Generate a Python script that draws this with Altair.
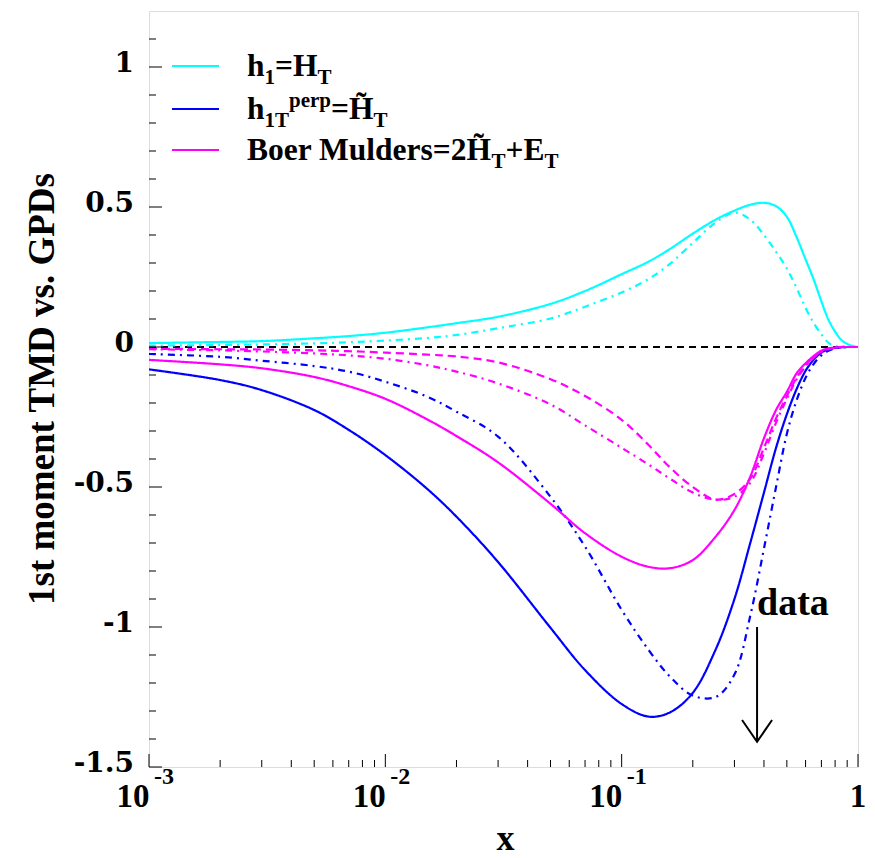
import altair as alt
import pandas as pd

# ---------------- data ----------------
X = [0.001, 0.002, 0.003, 0.005, 0.007, 0.01, 0.015, 0.02, 0.03, 0.05, 0.07, 0.1,
     0.13, 0.16, 0.2, 0.25, 0.3, 0.35, 0.4, 0.45, 0.5, 0.55, 0.6, 0.65, 0.7, 0.75,
     0.8, 0.85, 0.9, 0.95, 1.0]

H1_TMD = [0.014, 0.018, 0.021, 0.031, 0.039, 0.051, 0.070, 0.085, 0.108, 0.154,
          0.200, 0.260, 0.305, 0.350, 0.405, 0.455, 0.487, 0.508, 0.515, 0.503,
          0.465, 0.392, 0.313, 0.240, 0.163, 0.097, 0.055, 0.025, 0.011, 0.004, 0.0]
H1_GPD = [0.005, 0.007, 0.009, 0.013, 0.017, 0.023, 0.032, 0.043, 0.067, 0.102,
          0.144, 0.195, 0.243, 0.297, 0.372, 0.445, 0.480, 0.455, 0.400, 0.340,
          0.280, 0.210, 0.140, 0.085, 0.045, 0.015, 0.004, 0.0, 0.0, 0.0, 0.0]
PERP_TMD = [-0.080, -0.118, -0.154, -0.225, -0.296, -0.386, -0.506, -0.606, -0.768, -1.003,
            -1.154, -1.275, -1.320, -1.305, -1.235, -1.080, -0.900, -0.700, -0.520, -0.360,
            -0.240, -0.150, -0.085, -0.045, -0.020, -0.008, -0.003, -0.001, 0.0, 0.0, 0.0]
PERP_GPD = [-0.025, -0.035, -0.049, -0.068, -0.088, -0.124, -0.177, -0.231, -0.320, -0.535,
            -0.713, -0.939, -1.082, -1.177, -1.245, -1.250, -1.170, -0.960, -0.720, -0.500,
            -0.310, -0.190, -0.110, -0.060, -0.030, -0.013, -0.005, -0.001, 0.0, 0.0, 0.0]
BM_TMD = [-0.046, -0.062, -0.076, -0.107, -0.140, -0.185, -0.258, -0.318, -0.412, -0.560,
          -0.665, -0.749, -0.785, -0.790, -0.761, -0.677, -0.582, -0.463, -0.326, -0.225,
          -0.160, -0.094, -0.058, -0.032, -0.013, -0.005, -0.002, 0.0, 0.0, 0.0, 0.0]
BM_GPD_A = [-0.006, -0.008, -0.009, -0.012, -0.015, -0.020, -0.027, -0.034, -0.055, -0.115,
            -0.175, -0.260, -0.350, -0.430, -0.500, -0.545, -0.525, -0.470, -0.360, -0.255,
            -0.175, -0.110, -0.065, -0.035, -0.016, -0.007, -0.002, 0.0, 0.0, 0.0, 0.0]
BM_GPD_B = [-0.008, -0.012, -0.016, -0.023, -0.030, -0.042, -0.065, -0.088, -0.130, -0.205,
            -0.280, -0.360, -0.420, -0.470, -0.520, -0.546, -0.535, -0.485, -0.380, -0.270,
            -0.185, -0.115, -0.070, -0.038, -0.018, -0.008, -0.003, 0.0, 0.0, 0.0, 0.0]

SERIES = ["h1 TMD", "h1 GPD", "perp TMD", "perp GPD", "BM TMD", "BM GPD a", "BM GPD b"]
SERIES_VALUES = [H1_TMD, H1_GPD, PERP_TMD, PERP_GPD, BM_TMD, BM_GPD_A, BM_GPD_B]
COLORS = ["#00ffff", "#00ffff", "#0000ff", "#0000ff", "#ff00ff", "#ff00ff", "#ff00ff"]
DASHES = [[1, 0], [7, 5, 2, 5], [1, 0], [7, 5, 2, 5], [1, 0], [8, 5], [7, 5, 2, 5]]

Y_MAJOR = [-1.5, -1.0, -0.5, 0.0, 0.5, 1.0]
Y_MAJOR_LABELS = ["-1.5", "-1", "-0.5", "0", "0.5", "1"]
Y_MINOR = [-1.4, -1.3, -1.2, -1.1, -0.9, -0.8, -0.7, -0.6, -0.4, -0.3, -0.2, -0.1,
           0.1, 0.2, 0.3, 0.4, 0.6, 0.7, 0.8, 0.9, 1.1]
X_MAJOR = [0.001, 0.01, 0.1, 1.0]
X_MINOR = [m * d for d in (0.001, 0.01, 0.1) for m in range(2, 10)]
X_LABEL_POS = [0.001, 0.01, 0.1]
X_LABEL_EXP = ["-3", "-2", "-1"]

X_TITLE = "x"
Y_TITLE = "1st moment TMD vs. GPDs"

LEGEND_COLORS = ["#00ffff", "#0000ff", "#ff00ff"]
LEGEND_ROWS = [
    [("h", "n"), ("1", "sub"), ("=H", "n"), ("T", "sub")],
    [("h", "n"), ("1T", "sub"), ("perp", "sup"), ("=H\u0303", "n"), ("T", "sub")],
    [("Boer Mulders=2H\u0303", "n"), ("T", "sub"), ("+E", "n"), ("T", "sub")],
]

ARROW_X = 0.374
ARROW_TOP = -1.0
ARROW_TIP = -1.41

# ---------------- layout ----------------
W, H = 709, 756
SERIF = "Liberation Serif"

rows = []
for name, vals in zip(SERIES, SERIES_VALUES):
    for xv, yv in zip(X, vals):
        rows.append({"series": name, "x": xv, "y": yv})
curves_df = pd.DataFrame(rows)

xscale = alt.Scale(type="log", domain=[0.001, 1.0], nice=False)
yscale = alt.Scale(domain=[-1.5, 1.2], nice=False, zero=False)
XE = alt.X("x:Q", scale=xscale, axis=None)
YE = alt.Y("y:Q", scale=yscale, axis=None)

zero = alt.Chart(pd.DataFrame({"x": [0.001, 1.0], "y": [0.0, 0.0]})).mark_line(
    color="black", strokeDash=[7, 5], strokeWidth=2, clip=True
).encode(x=XE, y=YE)

curves = alt.Chart(curves_df).mark_line(strokeWidth=2.2, interpolate="catmull-rom", clip=True).encode(
    x=XE, y=YE,
    color=alt.Color("series:N", scale=alt.Scale(domain=SERIES, range=COLORS), legend=None),
    strokeDash=alt.StrokeDash("series:N", scale=alt.Scale(domain=SERIES, range=DASHES), legend=None),
    detail="series:N",
)

# ticks drawn inside the frame
y_major_ticks = alt.Chart(pd.DataFrame({"y": Y_MAJOR})).mark_rule(color="black", strokeWidth=1).encode(
    y=YE, x=alt.value(0), x2=alt.value(13))
y_minor_ticks = alt.Chart(pd.DataFrame({"y": Y_MINOR})).mark_rule(color="black", strokeWidth=1).encode(
    y=YE, x=alt.value(0), x2=alt.value(7))
x_major_ticks = alt.Chart(pd.DataFrame({"x": X_MAJOR})).mark_rule(color="black", strokeWidth=1).encode(
    x=XE, y=alt.value(H), y2=alt.value(H - 13))
x_minor_ticks = alt.Chart(pd.DataFrame({"x": X_MINOR})).mark_rule(color="black", strokeWidth=1).encode(
    x=XE, y=alt.value(H), y2=alt.value(H - 7))

# y tick labels
y_labels = alt.Chart(pd.DataFrame({"y": Y_MAJOR, "t": Y_MAJOR_LABELS})).mark_text(
    font="DejaVu Serif", fontWeight="bold", fontSize=28, align="right",
    baseline="middle", dy=-3, color="black"
).encode(y=YE, x=alt.value(-15), text="t:N")

# x tick labels 10^n
xlab_df = pd.DataFrame({"x": X_LABEL_POS, "e": X_LABEL_EXP})
x_base = alt.Chart(xlab_df).mark_text(
    text="10", font=SERIF, fontWeight="bold", fontSize=33, align="center",
    baseline="alphabetic", dx=-16, color="black"
).encode(x=XE, y=alt.value(H + 40))
x_exp = alt.Chart(xlab_df).mark_text(
    font=SERIF, fontWeight="bold", fontSize=24, align="left",
    baseline="alphabetic", dx=5, color="black"
).encode(x=XE, y=alt.value(H + 17), text="e:N")
x_one = alt.Chart(pd.DataFrame({"x": [1.0], "t": ["1"]})).mark_text(
    font=SERIF, fontWeight="bold", fontSize=33, align="center",
    baseline="alphabetic", color="black"
).encode(x=XE, y=alt.value(H + 40), text="t:N")

# axis titles
x_title = alt.Chart(pd.DataFrame({"t": [X_TITLE]})).mark_text(
    font=SERIF, fontWeight="bold", fontSize=36, align="center", baseline="alphabetic",
    color="black"
).encode(x=alt.value(W / 2 + 2), y=alt.value(H + 83), text="t:N")
y_title = alt.Chart(pd.DataFrame({"t": [Y_TITLE]})).mark_text(
    font=SERIF, fontWeight="bold", fontSize=37, align="center", baseline="alphabetic",
    angle=270, color="black"
).encode(x=alt.value(-95), y=alt.value(H / 2), text="t:N")

# "data" arrow
arrow_df = pd.DataFrame({"x": [ARROW_X], "y": [ARROW_TOP], "y2": [ARROW_TIP]})
arrow_line = alt.Chart(arrow_df).mark_rule(color="black", strokeWidth=2).encode(
    x=XE, y=YE, y2="y2:Q")
arrow_head = alt.Chart(arrow_df).mark_point(
    shape="M-1,-1.45L0,0L1,-1.45", filled=False, color="black", strokeWidth=2,
    size=900, opacity=1
).encode(x=XE, y=alt.Y("y2:Q", scale=yscale, axis=None))
data_text = alt.Chart(pd.DataFrame({"x": [ARROW_X], "y": [ARROW_TOP], "t": ["data"]})).mark_text(
    font=SERIF, fontWeight="bold", fontSize=38, align="left", baseline="alphabetic",
    dy=-12, color="black"
).encode(x=XE, y=YE, text="t:N")

# ---------------- hand-made legend ----------------
WIDTHS = {"h": 556, "1": 500, "=": 570, "H": 778, "T": 667, "p": 556, "e": 444, "r": 444,
          "B": 667, "o": 500, " ": 250, "M": 944, "u": 556, "l": 278, "d": 556, "s": 389,
          "2": 500, "+": 570, "E": 667, "\u0303": 0}


def text_width(s, fs):
    return sum(WIDTHS.get(ch, 500) for ch in s) / 1000.0 * fs


LEG_FS, SUB_FS = 31.5, 21
LEG_X0, LEG_TEXT_X = 23, 98
LEG_LINE_Y = [55, 98, 139]
leg_pieces = []
for r, pieces in enumerate(LEGEND_ROWS):
    base = LEG_LINE_Y[r] + 10
    xpos = LEG_TEXT_X
    for txt, kind in pieces:
        fs = LEG_FS if kind == "n" else SUB_FS
        dy = 0 if kind == "n" else (8 if kind == "sub" else -12)
        leg_pieces.append({"px": xpos, "py": base + dy, "t": txt, "fs": fs})
        xpos += text_width(txt, fs)
leg_text = alt.Chart(pd.DataFrame(leg_pieces)).mark_text(
    font=SERIF, fontWeight="bold", align="left", baseline="alphabetic", color="black"
).encode(
    x=alt.X("px:Q", scale=None, axis=None),
    y=alt.Y("py:Q", scale=None, axis=None),
    size=alt.Size("fs:Q", scale=None, legend=None),
    text="t:N",
)
leg_lines = alt.Chart(pd.DataFrame({"ly": LEG_LINE_Y, "c": LEGEND_COLORS})).mark_rule(strokeWidth=2.2).encode(
    x=alt.value(LEG_X0), x2=alt.value(LEG_X0 + 47),
    y=alt.Y("ly:Q", scale=None, axis=None),
    color=alt.Color("c:N", scale=None, legend=None),
)

chart = alt.layer(
    zero, curves, y_major_ticks, y_minor_ticks, x_major_ticks, x_minor_ticks,
    y_labels, x_base, x_exp, x_one, x_title, y_title,
    arrow_line, arrow_head, data_text, leg_lines, leg_text
).properties(
    width=W, height=H,
    autosize=alt.AutoSizeParams(type="none"),
    padding={"left": 149, "top": 11, "right": 17, "bottom": 91},
).configure_view(stroke="black", strokeWidth=1.3).configure(background="white")

chart.save("out.html", embed_options={"renderer": "svg", "actions": False})
